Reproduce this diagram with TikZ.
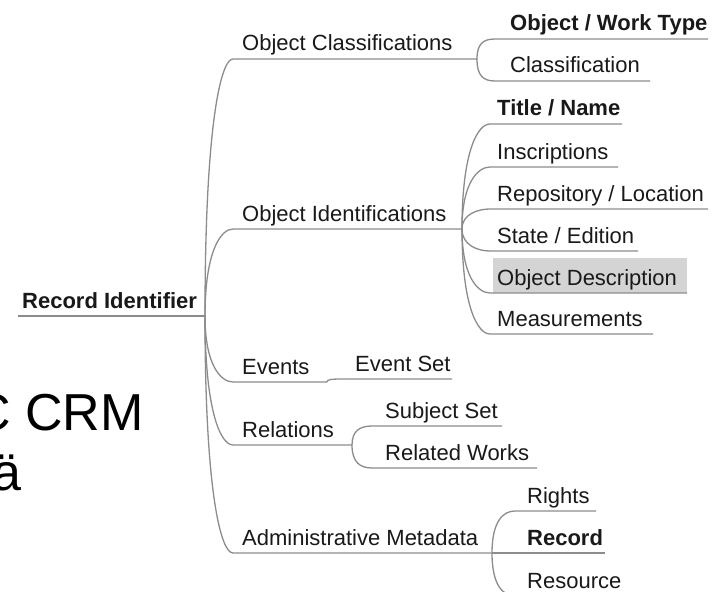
\documentclass[tikz,border=0pt]{standalone}
\usepackage{fontspec}
\setmainfont{Liberation Sans}
\usetikzlibrary{calc}

\definecolor{linegray}{HTML}{8C8C8C}
\definecolor{markgray}{HTML}{D4D4D4}

\tikzset{
  branch/.style={draw=linegray, line width=1.3pt},
  twig/.style={to path={.. controls ($(\tikztostart)!0.75!(\tikztostart|-\tikztotarget)$) and ($(\tikztotarget)+(-12,0)$) .. (\tikztotarget) \tikztonodes}},
  topic/.style={anchor=base west, inner sep=0pt, text=black!90, font=\fontsize{22}{26}\selectfont},
  boldtopic/.style={topic, font=\fontsize{22}{26}\selectfont\bfseries},
  slide/.style={anchor=base west, inner sep=0pt, font=\fontsize{52}{60}\selectfont}
}

\begin{document}
\begin{tikzpicture}[x=1pt, y=-1pt]
\clip (0,0) rectangle (714,591);
\fill[white] (0,0) rectangle (714,591);

% slide text cut off at the left
\node[slide] (crm) at (-27,430) {C CRM};
\node[slide] (auml) at (-8,490) {ä};

% root
\coordinate (ri-s) at (18,316);  \coordinate (ri-e) at (205,316);
\node[boldtopic] (ri) at (22,308) {Record Identifier};
\draw[branch] (ri-s) -- (ri-e);

% first level
\coordinate (oc-s) at (233,59);   \coordinate (oc-e) at (477,59);
\coordinate (oi-s) at (233,229);  \coordinate (oi-e) at (462,229);
\coordinate (ev-s) at (233,382);  \coordinate (ev-e) at (327,382);
\coordinate (re-s) at (233,445);  \coordinate (re-e) at (352,445);
\coordinate (am-s) at (233,553);  \coordinate (am-e) at (492,553);
\node[topic] (oc) at (242,51) {Object Classifications};
\node[topic] (oi) at (242,221) {Object Identifications};
\node[topic] (ev) at (242,374) {Events};
\node[topic] (re) at (242,437) {Relations};
\node[topic] (am) at (242,545) {Administrative Metadata};
\draw[branch] (ri-e) to[twig] (oc-s) -- (oc-e);
\draw[branch] (ri-e) to[twig] (oi-s) -- (oi-e);
\draw[branch] (ri-e) to[twig] (ev-s) -- (ev-e);
\draw[branch] (ri-e) to[twig] (re-s) -- (re-e);
\draw[branch] (ri-e) to[twig] (am-s) -- (am-e);

% classifications
\coordinate (owt-s) at (495,39);  \coordinate (owt-e) at (708,39);
\coordinate (cl-s) at (495,81);   \coordinate (cl-e) at (650,81);
\node[boldtopic] (owt) at (510,31) {Object / Work Type};
\node[topic] (cl) at (510,73) {Classification};
\draw[branch] (oc-e) to[twig] (owt-s) -- (owt-e);
\draw[branch] (oc-e) to[twig] (cl-s) -- (cl-e);

% identifications
\fill[markgray] (493,258) rectangle (687,293);
\coordinate (tn-s) at (490,124);  \coordinate (tn-e) at (622,124);
\coordinate (ins-s) at (490,167); \coordinate (ins-e) at (618,167);
\coordinate (rl-s) at (490,209);  \coordinate (rl-e) at (708,209);
\coordinate (se-s) at (490,251);  \coordinate (se-e) at (638,251);
\coordinate (od-s) at (490,293);  \coordinate (od-e) at (687,293);
\coordinate (me-s) at (490,334);  \coordinate (me-e) at (653,334);
\node[boldtopic] (tn) at (497,116) {Title / Name};
\node[topic] (ins) at (497,159) {Inscriptions};
\node[topic] (rl) at (497,201) {Repository / Location};
\node[topic] (se) at (497,243) {State / Edition};
\node[topic] (od) at (497,285) {Object Description};
\node[topic] (me) at (497,326) {Measurements};
\draw[branch] (oi-e) to[twig] (tn-s) -- (tn-e);
\draw[branch] (oi-e) to[twig] (ins-s) -- (ins-e);
\draw[branch] (oi-e) to[twig] (rl-s) -- (rl-e);
\draw[branch] (oi-e) to[twig] (se-s) -- (se-e);
\draw[branch] (oi-e) to[twig] (od-s) -- (od-e);
\draw[branch] (oi-e) to[twig] (me-s) -- (me-e);

% events and relations
\coordinate (es-s) at (342,379);  \coordinate (es-e) at (452,379);
\coordinate (ss-s) at (372,426);  \coordinate (ss-e) at (502,426);
\coordinate (rw-s) at (372,468);  \coordinate (rw-e) at (537,468);
\node[topic] (es) at (355,371) {Event Set};
\node[topic] (ss) at (385,418) {Subject Set};
\node[topic] (rw) at (385,460) {Related Works};
\draw[branch] (ev-e) to[twig] (es-s) -- (es-e);
\draw[branch] (re-e) to[twig] (ss-s) -- (ss-e);
\draw[branch] (re-e) to[twig] (rw-s) -- (rw-e);

% administrative metadata
\coordinate (rg-s) at (515,511);  \coordinate (rg-e) at (596,511);
\coordinate (rc-s) at (515,553);  \coordinate (rc-e) at (605,553);
\coordinate (rs-s) at (515,596);  \coordinate (rs-e) at (625,596);
\node[topic] (rg) at (527,503) {Rights};
\node[boldtopic] (rc) at (527,545) {Record};
\node[topic] (rs) at (527,588) {Resource};
\draw[branch] (am-e) to[twig] (rg-s) -- (rg-e);
\draw[branch] (am-e) to[twig] (rc-s) -- (rc-e);
\draw[branch] (am-e) to[twig] (rs-s) -- (rs-e);
\end{tikzpicture}
\end{document}
